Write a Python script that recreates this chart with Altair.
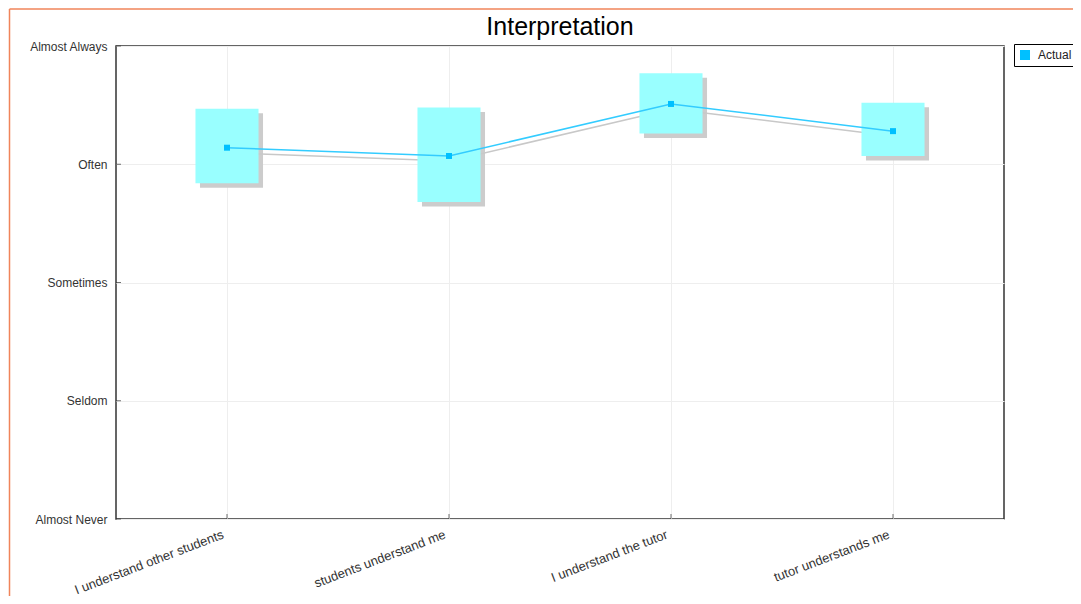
import altair as alt
import pandas as pd

categories = ["I understand other students", "students understand me",
              "I understand the tutor", "tutor understands me"]
actual = [4.14, 4.07, 4.51, 4.28]
box_low = [3.84, 3.68, 4.26, 4.07]
box_high = [4.47, 4.48, 4.77, 4.52]
levels = ["Almost Never", "Seldom", "Sometimes", "Often", "Almost Always"]
level_values = [1, 2, 3, 4, 5]
series_name = "Actual"

df = pd.DataFrame({
    "cat": categories,
    "actual": actual,
    "low": box_low,
    "high": box_high,
    "series": [series_name] * len(categories),
})
lv = pd.DataFrame({"v": level_values})
one = pd.DataFrame({"a": [0]})

W, H = 888, 473
PAD = {"left": 108, "top": 38, "right": 69, "bottom": 77}
FONT = "Liberation Sans"

label_expr = "[" + ",".join("'%s'" % s for s in levels) + "][datum.value - 1]"

xscale = alt.Scale(paddingInner=0.716, paddingOuter=0.358)
yscale = alt.Scale(domain=[1, 5])

def xenc():
    return alt.X("cat:N", sort=categories, scale=xscale, title=None,
                 axis=alt.Axis(labelAngle=-21, labelAlign="right", labelBaseline="top",
                               labelPadding=9, labelOffset=-6, labelFontSize=13,
                               labelColor="#333", ticks=False, domain=False, grid=True,
                               gridColor="#EEEEEE", bandPosition=0.5, labelFont=FONT))

def yaxis():
    return alt.Axis(values=level_values, labelExpr=label_expr, ticks=False, domain=False,
                    grid=True, gridColor="#EEEEEE", labelPadding=9, labelFontSize=12,
                    labelColor="#333", labelFont=FONT)

base = alt.Chart(df)

shadow_bars = base.mark_bar(color="#CCCCCC", xOffset=4.5, x2Offset=4.5,
                            yOffset=4.5, y2Offset=4.5).encode(
    x=xenc(),
    y=alt.Y("low:Q", scale=yscale, axis=yaxis(), title=None),
    y2="high:Q",
)
shadow_line = base.mark_line(color="#C8C8C8", strokeWidth=1.5, yOffset=5, xOffset=1).encode(
    x=xenc(), y=alt.Y("actual:Q", scale=yscale, axis=yaxis(), title=None)
)
bars = base.mark_bar(color="#99FFFF").encode(
    x=xenc(),
    y=alt.Y("low:Q", scale=yscale, axis=yaxis(), title=None),
    y2="high:Q",
)
line = base.mark_line(color="#33CCFF", strokeWidth=1.5).encode(
    x=xenc(), y=alt.Y("actual:Q", scale=yscale, axis=yaxis(), title=None)
)
points = base.mark_point(shape="square", filled=True, size=36, opacity=1).encode(
    x=xenc(),
    y=alt.Y("actual:Q", scale=yscale, axis=yaxis(), title=None),
    color=alt.Color("series:N",
                    scale=alt.Scale(domain=[series_name], range=["#00C0FF"]),
                    legend=alt.Legend(title=None, orient="none", legendX=898, legendY=-2,
                                      symbolType="square", symbolSize=100,
                                      labelFontSize=12, labelColor="#222", labelFont=FONT,
                                      strokeColor="black", fillColor="white",
                                      padding=5, labelOffset=7, symbolStrokeWidth=0)),
)
yticks = alt.Chart(lv).mark_tick(orient="horizontal", size=5, thickness=1, color="#333").encode(
    y=alt.Y("v:Q", scale=yscale, axis=yaxis(), title=None), x=alt.value(2.5)
)
xticks = alt.Chart(df).mark_tick(orient="vertical", size=5, thickness=1, color="#333").encode(
    x=xenc(), y=alt.value(H - 2.5)
)
frame_top = alt.Chart(one).mark_rule(color="#F0845A", strokeWidth=1.5).encode(
    x=alt.value(-106.5), x2=alt.value(W + PAD["right"]), y=alt.value(-37)
)
frame_left = alt.Chart(one).mark_rule(color="#F0845A", strokeWidth=1.5).encode(
    x=alt.value(-106.5), y=alt.value(-37), y2=alt.value(H + PAD["bottom"])
)

chart = alt.layer(
    shadow_bars, shadow_line, bars, line, points, yticks, xticks, frame_top, frame_left
).properties(
    width=W, height=H,
    autosize=alt.AutoSizeParams(type="none"),
    padding=PAD,
    title=alt.Title("Interpretation", fontSize=25, font=FONT, fontWeight="normal",
                    color="black", offset=0, dy=32, anchor="middle", frame="group"),
).configure(font=FONT).configure_view(stroke="#333", strokeWidth=1.5)

chart.save("out.html", embed_options={"renderer": "svg", "actions": False})
